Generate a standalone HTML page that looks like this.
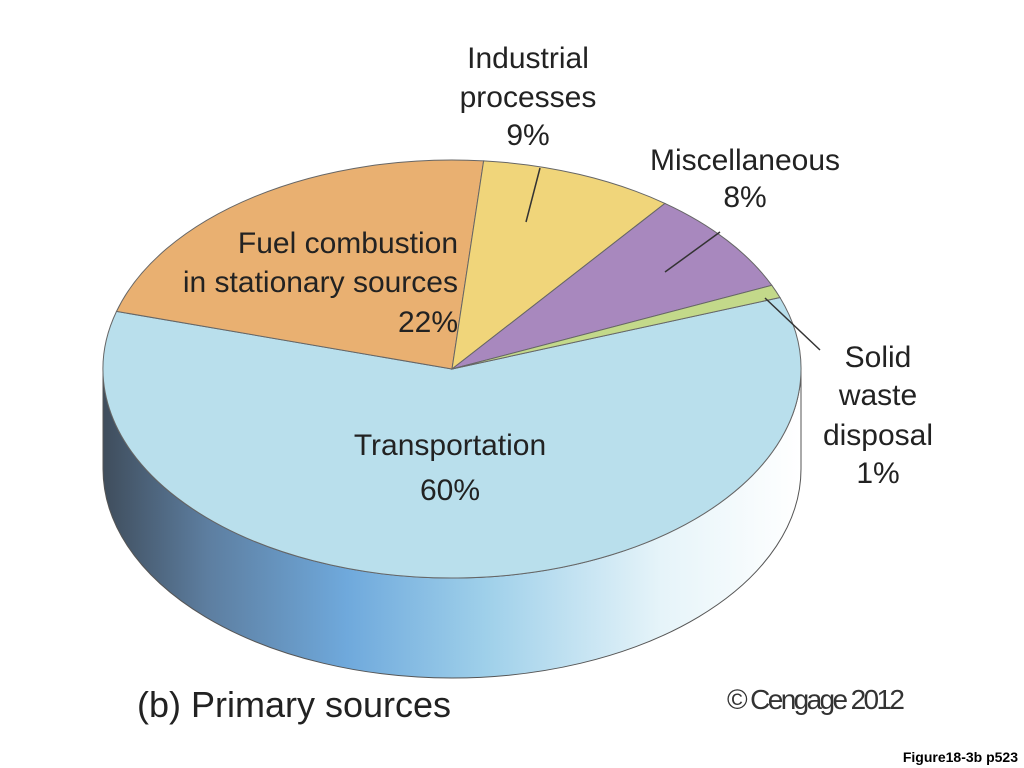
<!DOCTYPE html>
<html><head><meta charset="utf-8"><style>
body{margin:0;background:#fff;width:1024px;height:768px;overflow:hidden;font-family:"Liberation Sans",sans-serif}
svg{position:absolute;left:0;top:0}
</style></head><body>
<svg width="1024" height="768">
<defs>
<linearGradient id="side" x1="0" x2="1" y1="0" y2="0">
<stop offset="0" stop-color="#3f4d5c"/><stop offset="0.15" stop-color="#5d7ea0"/>
<stop offset="0.35" stop-color="#6fa9dc"/><stop offset="0.55" stop-color="#9fd0ea"/>
<stop offset="0.8" stop-color="#e6f4f9"/><stop offset="1" stop-color="#ffffff"/>
</linearGradient>
</defs>
<g id="pie"></g>
<g font-size="30" fill="#222" text-anchor="middle">
<text x="528" y="68">Industrial</text>
<text x="528" y="107">processes</text>
<text x="528" y="145">9%</text>
<text x="745" y="170">Miscellaneous</text>
<text x="745" y="207">8%</text>
<text x="450" y="455">Transportation</text>
<text x="450" y="500">60%</text>
<text x="878" y="367">Solid</text>
<text x="878" y="405">waste</text>
<text x="878" y="445">disposal</text>
<text x="878" y="483">1%</text>
</g>
<g font-size="30" fill="#222" text-anchor="end">
<text x="458" y="253">Fuel combustion</text>
<text x="458" y="292">in stationary sources</text>
<text x="458" y="332">22%</text>
</g>
<g stroke="#333" stroke-width="1.5">
<line x1="540" y1="168" x2="526" y2="222"/>
<line x1="720" y1="232" x2="665" y2="272"/>
<line x1="820" y1="350" x2="765" y2="298"/>
</g>
<text x="137" y="717" font-size="36" fill="#222">(b) Primary sources</text>
<text x="727" y="709" font-size="28" fill="#333" textLength="178">© Cengage 2012</text>
<text x="1018" y="762" font-size="14" font-weight="bold" fill="#000" text-anchor="end">Figure18-3b p523</text>
</svg>
<script>
const categories=["Transportation","Fuel combustion","Industrial processes","Miscellaneous","Solid waste disposal"];
const values=[60,22,9,8,1];
const colors=["#b9dfec","#e9b071","#f0d57a","#a888be","#c3d98a"];
const cx=452,cy=369,rx=349,ry=209,depth=100,start=-20;
const g=document.getElementById('pie');
const ns="http://www.w3.org/2000/svg";
function pt(t,dy){const r=t*Math.PI/180;return [cx+rx*Math.cos(r),cy+ry*Math.sin(r)+(dy||0)];}
// side
(function(){
  const a=pt(0),b=pt(180),c=pt(180,depth),d=pt(0,depth);
  const p=document.createElementNS(ns,'path');
  p.setAttribute('d',`M${a} A${rx},${ry} 0 0 1 ${b} L${c} A${rx},${ry} 0 0 0 ${d} Z`);
  p.setAttribute('fill','url(#side)');p.setAttribute('stroke','#555');p.setAttribute('stroke-width','1');
  
  
  g.appendChild(p);
})();
const total=values.reduce((s,v)=>s+v,0);
let ang=start;
values.forEach((v,i)=>{
  const sweep=v/total*360;
  const a=pt(ang),b=pt(ang+sweep);
  const p=document.createElementNS(ns,'path');
  p.setAttribute('d',`M${cx},${cy} L${a} A${rx},${ry} 0 ${sweep>180?1:0} 1 ${b} Z`);
  p.setAttribute('fill',colors[i]);p.setAttribute('stroke','#666');p.setAttribute('stroke-width','1');
  
  
  g.appendChild(p);
  ang+=sweep;
});
</script>
</body></html>
